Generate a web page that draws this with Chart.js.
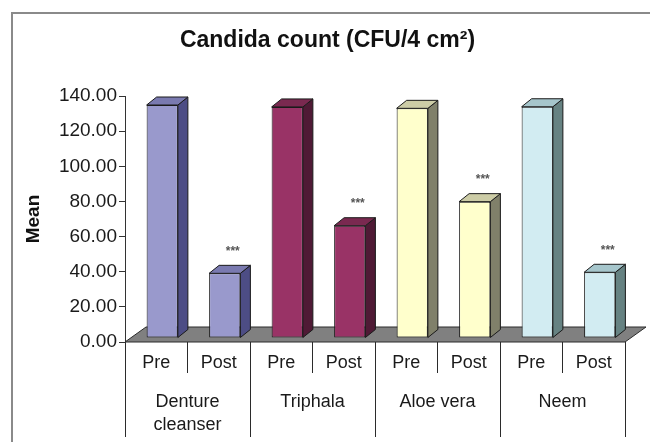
<!DOCTYPE html>
<html>
<head>
<meta charset="utf-8">
<script src="https://cdn.jsdelivr.net/npm/chart.js@4.4.0/dist/chart.umd.min.js"></script>
<style>
  html, body { margin: 0; padding: 0; background: #fff; }
  #wrap { position: relative; width: 650px; height: 442px; }
  #frame { position: absolute; left: 11px; top: 12px; right: 0; bottom: 0; border-left: 2px solid #8a8a8a; border-top: 2px solid #8a8a8a; }
  canvas { position: absolute; left: 0; top: 0; }
</style>
</head>
<body>
<div id="wrap">
  <div id="frame"></div>
  <canvas id="chart" width="650" height="442"></canvas>
</div>
<script>
var groups = ['Denture cleanser', 'Triphala', 'Aloe vera', 'Neem'];
var phases = ['Pre', 'Post'];
var preMeans = [132.6, 131.5, 130.7, 131.6];
var postMeans = [36.8, 63.9, 77.6, 37.4];
var postMarks = ['***', '***', '***', '***'];
var yTicks = [0, 20, 40, 60, 80, 100, 120, 140];

var frontColors = ['#9999cc', '#993366', '#ffffcc', '#d2ecf2'];
var sideColors = ['#4d4d85', '#4f1a35', '#80806a', '#668282'];
var topColors = ['#7a7ab0', '#7a2950', '#cccca6', '#a6c6cc'];

// interleave Pre / Post for each product
var labels = [], values = [], marks = [], colorIdx = [];
for (var i = 0; i < groups.length; i++) {
    labels.push(phases[0], phases[1]);
    values.push(preMeans[i], postMeans[i]);
    marks.push('', postMarks[i]);
    colorIdx.push(i, i);
}

Chart.defaults.font.family = '"Liberation Sans", Arial, sans-serif';

var shift = { x: 6, y: -4 };        // front faces sit half way into the floor
var depth = { x: 10, y: -8 };       // column depth
var floorDepth = { x: 21, y: -15 };

var columns3d = {
    id: 'columns3d',
    beforeDatasetsDraw: function (chart) {
        var ctx = chart.ctx, area = chart.chartArea;
        var y0 = chart.scales.y.getPixelForValue(0);
        ctx.save();
        ctx.beginPath();
        ctx.moveTo(area.left, y0);
        ctx.lineTo(area.right, y0);
        ctx.lineTo(area.right + floorDepth.x, y0 + floorDepth.y);
        ctx.lineTo(area.left + floorDepth.x, y0 + floorDepth.y);
        ctx.closePath();
        ctx.fillStyle = '#808080';
        ctx.fill();
        ctx.strokeStyle = '#2b2b2b';
        ctx.lineWidth = 1;
        ctx.stroke();
        ctx.restore();
        ctx.save();
        ctx.translate(shift.x, shift.y);
    },
    afterDatasetsDraw: function (chart) {
        var ctx = chart.ctx;
        ctx.restore();
        var bars = chart.getDatasetMeta(0).data;
        ctx.save();
        ctx.lineWidth = 1;
        ctx.strokeStyle = '#1a1a1a';
        bars.forEach(function (bar, i) {
            var p = bar.getProps(['x', 'y', 'base', 'width'], true);
            var l = p.x - p.width / 2 + shift.x, r = p.x + p.width / 2 + shift.x;
            var t = p.y + shift.y, b = p.base + shift.y;
            var c = colorIdx[i];
            // side face
            ctx.beginPath();
            ctx.moveTo(r, t);
            ctx.lineTo(r + depth.x, t + depth.y);
            ctx.lineTo(r + depth.x, b + depth.y);
            ctx.lineTo(r, b);
            ctx.closePath();
            ctx.fillStyle = sideColors[c];
            ctx.fill();
            ctx.stroke();
            // top face
            ctx.beginPath();
            ctx.moveTo(l, t);
            ctx.lineTo(l + depth.x, t + depth.y);
            ctx.lineTo(r + depth.x, t + depth.y);
            ctx.lineTo(r, t);
            ctx.closePath();
            ctx.fillStyle = topColors[c];
            ctx.fill();
            ctx.stroke();
            if (marks[i]) {
                ctx.fillStyle = '#555';
                ctx.font = 'bold 12px "Liberation Sans", Arial, sans-serif';
                ctx.textAlign = 'center';
                ctx.textBaseline = 'middle';
                ctx.fillText(marks[i], (l + r) / 2 + 8, t - 22);
            }
        });
        ctx.restore();
    }
};

new Chart(document.getElementById('chart'), {
    type: 'bar',
    data: {
        labels: labels,
        datasets: [{
            data: values,
            backgroundColor: colorIdx.map(function (c) { return frontColors[c]; }),
            borderColor: '#1a1a1a',
            borderWidth: 1,
            borderSkipped: false,
            categoryPercentage: 1,
            barPercentage: 0.5
        }]
    },
    options: {
        responsive: false,
        animation: false,
        devicePixelRatio: 1,
        layout: { padding: { left: 30, right: 25, top: 0, bottom: 0 } },
        plugins: {
            legend: { display: false },
            tooltip: { enabled: false },
            title: {
                display: true,
                text: 'Candida count (CFU/4 cm²)',
                color: '#111',
                font: { size: 23, weight: 'bold' },
                padding: { top: 27, bottom: 41.4 }
            }
        },
        scales: {
            x: {
                weight: 0,
                afterFit: function (s) { s.height = 31; },
                grid: { offset: true, drawOnChartArea: false, tickLength: 31, color: '#2b2b2b' },
                border: { display: false },
                ticks: { color: '#1a1a1a', font: { size: 18 }, padding: -21, autoSkip: false, maxRotation: 0 }
            },
            x2: {
                type: 'category',
                position: 'bottom',
                weight: 1,
                labels: groups,
                offset: true,
                afterFit: function (s) { s.height = 69; },
                grid: { offset: true, drawOnChartArea: false, tickLength: 64, color: '#2b2b2b' },
                border: { display: false },
                ticks: {
                    color: '#1a1a1a',
                    font: { size: 18, lineHeight: 1.3 },
                    padding: -47,
                    autoSkip: false,
                    maxRotation: 0,
                    callback: function (v, i) {
                        var g = groups[i];
                        return g.length > 12 ? g.split(' ') : g;
                    }
                }
            },
            y: {
                min: 0,
                max: 140,
                afterFit: function (s) { s.width = 95; },
                afterBuildTicks: function (s) {
                    s.ticks = yTicks.map(function (v) { return { value: v }; });
                },
                ticks: {
                    color: '#1a1a1a',
                    font: { size: 19 },
                    padding: 2,
                    callback: function (v) { return Number(v).toFixed(2); }
                },
                grid: { drawOnChartArea: false, tickLength: 6, color: '#333' },
                border: { color: '#333', width: 1 },
                title: {
                    display: true,
                    text: 'Mean',
                    color: '#111',
                    font: { size: 19, weight: 'bold' },
                    padding: { top: -8, bottom: 0 }
                }
            }
        }
    },
    plugins: [columns3d]
});
</script>
</body>
</html>
